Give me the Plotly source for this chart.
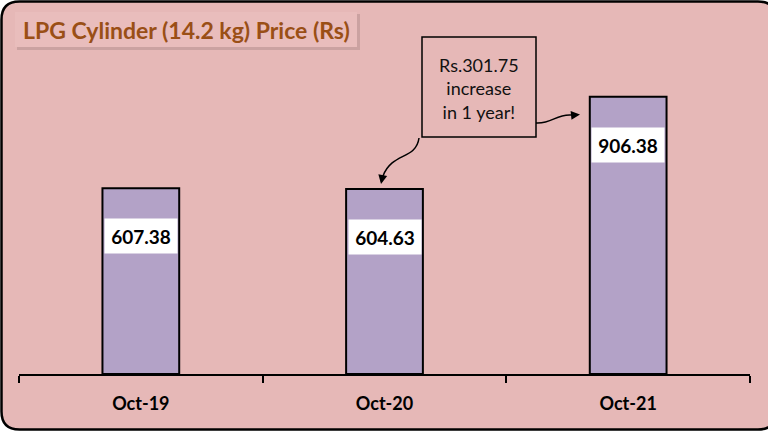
import plotly.graph_objects as go

categories = ["Oct-19", "Oct-20", "Oct-21"]
prices = [607.38, 604.63, 906.38]
value_labels = ["607.38", "604.63", "906.38"]
title_text = "LPG Cylinder (14.2 kg) Price (Rs)"
callout_text = "Rs.301.75<br>increase<br>in 1 year!"

W, H = 768, 432
ML, MR, MT, MB = 19, 18, 68, 58
PW, PH = W - ML - MR, H - MT - MB

def fx(px):
    return (px - ML) / PW

def fy(py):
    return (H - MB - py) / PH

def path(cmds):
    out = []
    for c in cmds:
        if isinstance(c, str):
            out.append(c)
        else:
            out.append(f"{fx(c[0]):.5f},{fy(c[1]):.5f}")
    return " ".join(out)

PINK = "#E6B8B7"
BAR = "#B3A2C7"
FONT = "Lato, 'Open Sans', sans-serif"

fig = go.Figure()
fig.add_trace(go.Bar(
    x=categories, y=prices, width=0.315,
    marker=dict(color=BAR, line=dict(color="black", width=2)),
    hoverinfo="skip",
))

shapes = []
# outer rounded frame
L, T, R, B, r = 1.5, 1.5, 776, 429.5, 18
def rounded(L, T, R, B, r):
    return path(["M", (L + r, T), "L", (R - r, T), "Q", (R, T), (R, T + r),
                 "L", (R, B - r), "Q", (R, B), (R - r, B), "L", (L + r, B),
                 "Q", (L, B), (L, B - r), "L", (L, T + r), "Q", (L, T), (L + r, T), "Z"])
shapes.append(dict(type="path", xref="paper", yref="paper", layer="below",
                   path=rounded(L, T, R, B, r), fillcolor=PINK,
                   line=dict(color="black", width=2.5)))
# title box shadow + box
shapes.append(dict(type="rect", xref="paper", yref="paper", layer="below",
                   x0=fx(17), x1=fx(360), y0=fy(14), y1=fy(50),
                   fillcolor="rgba(110,85,85,0.22)", line=dict(width=0)))
shapes.append(dict(type="rect", xref="paper", yref="paper", layer="below",
                   x0=fx(15), x1=fx(357), y0=fy(12), y1=fy(47),
                   fillcolor="#E9BDBC", line=dict(width=0)))
# callout box
shapes.append(dict(type="rect", xref="paper", yref="paper",
                   x0=fx(422), x1=fx(536), y0=fy(37), y1=fy(137),
                   fillcolor="rgba(0,0,0,0)", line=dict(color="black", width=1.5)))
# curvy arrows
shapes.append(dict(type="path", xref="paper", yref="paper",
                   path=path(["M", (419, 138), "C", (416, 160), (392, 152), (383, 176)]),
                   line=dict(color="black", width=1.5)))
shapes.append(dict(type="path", xref="paper", yref="paper",
                   path=path(["M", (536, 123), "C", (552, 124), (556, 114), (571, 115)]),
                   line=dict(color="black", width=1.5)))

annotations = []
annotations.append(dict(xref="paper", yref="paper", x=fx(186), y=fy(29.5),
                        text=f"<b>{title_text}</b>", showarrow=False,
                        font=dict(family=FONT, size=23, color="#9A4F16"),
                        xanchor="center", yanchor="middle"))
annotations.append(dict(xref="paper", yref="paper", x=fx(479), y=fy(88),
                        text=callout_text, showarrow=False,
                        font=dict(family=FONT, size=18, color="#111111"),
                        xanchor="center", yanchor="middle"))
# arrowheads
annotations.append(dict(xref="paper", yref="paper", x=fx(381), y=fy(184), text="",
                        showarrow=True, ax=2, ay=-10, arrowhead=2, arrowsize=1.2,
                        arrowwidth=1.5, arrowcolor="black"))
annotations.append(dict(xref="paper", yref="paper", x=fx(580), y=fy(114.5), text="",
                        showarrow=True, ax=-10, ay=1, arrowhead=2, arrowsize=1.2,
                        arrowwidth=1.5, arrowcolor="black"))
# value labels
for cat, v, lab in zip(categories, prices, value_labels):
    annotations.append(dict(x=cat, y=v, xref="x", yref="y", text=f"<b>{lab}</b>",
                            showarrow=False, yshift=-48, bgcolor="white",
                            width=70, height=32,
                            font=dict(family=FONT, size=19, color="black")))

fig.update_layout(
    width=W, height=H,
    margin=dict(l=ML, r=MR, t=MT, b=MB),
    paper_bgcolor="white", plot_bgcolor="rgba(0,0,0,0)",
    showlegend=False,
    shapes=shapes, annotations=annotations,
    xaxis=dict(type="category", categoryorder="array", categoryarray=categories,
               range=[-0.5, 2.5], showline=True, linecolor="black", linewidth=1.5,
               ticks="outside", tickson="boundaries", ticklen=7, tickcolor="black",
               tickwidth=1.5, showgrid=False, zeroline=False,
               tickfont=dict(family=FONT, size=18, color="black", weight="bold"),
               ticklabelstandoff=13, fixedrange=True),
    yaxis=dict(range=[0, 1000], visible=False, showgrid=False, fixedrange=True),
)

fig.write_html("out.html", config={"displayModeBar": False},
               post_script="document.body.style.margin='0';document.body.style.overflow='hidden';")
